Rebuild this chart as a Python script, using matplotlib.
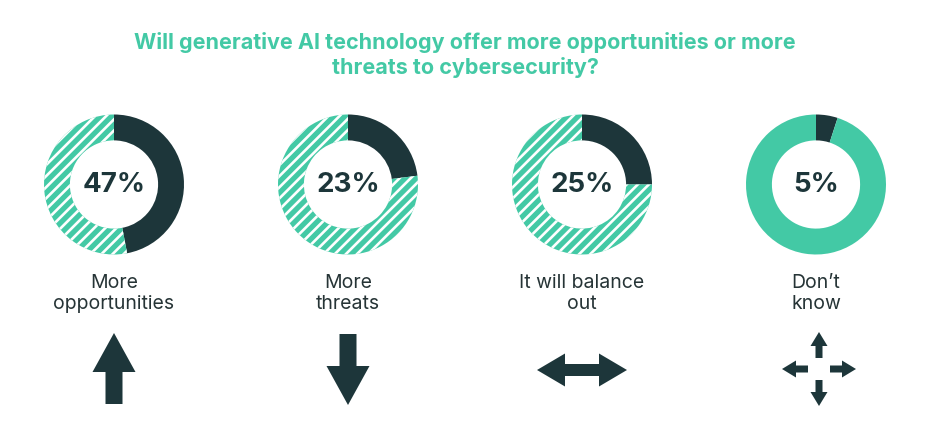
import matplotlib
matplotlib.use("Agg")
import matplotlib.pyplot as plt
from matplotlib.patches import FancyArrow

# data
categories = ["More\nopportunities", "More\nthreats", "It will balance\nout", "Don\u2019t\nknow"]
shares = [47, 23, 25, 5]
hatched = [True, True, True, False]
title = "Will generative AI technology offer more opportunities or more\nthreats to cybersecurity?"

DARK = "#1d363a"
GREEN = "#43c9a5"
W, H = 930, 426

plt.rcParams['font.family'] = ['Inter', 'DejaVu Sans']
plt.rcParams['hatch.linewidth'] = 1.9

fig = plt.figure(figsize=(W / 100, H / 100), dpi=100)

# overlay in pixel units for text and arrows
ov = fig.add_axes([0, 0, 1, 1])
ov.set_xlim(0, W)
ov.set_ylim(H, 0)
ov.axis('off')

ov.text(465, 55, title, ha='center', va='center', fontsize=15.5, fontweight='bold',
        color=GREEN, linespacing=1.25)

cx0, step, cy, r = 114, 234, 184.5, 70
for i, (cat, val, hat) in enumerate(zip(categories, shares, hatched)):
    cx = cx0 + i * step
    ax = fig.add_axes([(cx - r) / W, (H - cy - r) / H, 2 * r / W, 2 * r / H])
    wedges, _ = ax.pie([val, 100 - val], colors=[DARK, GREEN], startangle=90,
                       counterclock=False, radius=1,
                       wedgeprops=dict(width=0.37, linewidth=0))
    if hat:
        wedges[1].set_hatch('///')
        wedges[1].set_edgecolor('white')
    ax.set_xlim(-1, 1)
    ax.set_ylim(-1, 1)
    ax.axis('off')
    ov.text(cx, cy + 1, f"{val}%", ha='center', va='center', fontsize=20,
            fontweight='bold', color=DARK, zorder=5)
    ov.text(cx, 293.5, cat, ha='center', va='center', fontsize=14,
            color="#263436", linespacing=1.2)

def arrow(x, y, dx, dy, w, hw, hl):
    ov.add_patch(FancyArrow(x, y, dx, dy, width=w, head_width=hw, head_length=hl,
                            length_includes_head=True, color=DARK, lw=0))

# up
arrow(114, 404, 0, -71, 17, 43, 39)
# down
arrow(348, 334, 0, 71, 17, 43, 39)
# both ways
arrow(582, 370, 45, 0, 12, 33, 28)
arrow(582, 370, -45, 0, 12, 33, 28)
# all directions
cxa, cya = 819, 369
arrow(cxa, cya - 11, 0, -26, 7, 17, 14)
arrow(cxa, cya + 11, 0, 26, 7, 17, 14)
arrow(cxa - 11, cya, -26, 0, 7, 17, 14)
arrow(cxa + 11, cya, 26, 0, 7, 17, 14)

fig.savefig("out.png", dpi=100, facecolor='white')
